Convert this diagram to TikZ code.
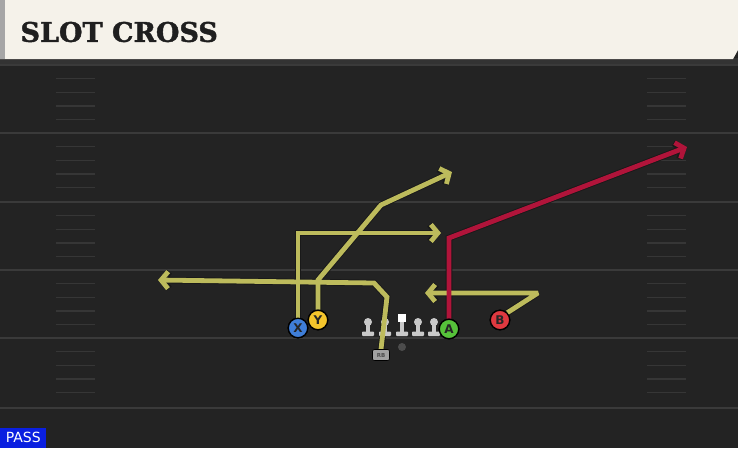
\documentclass[tikz,border=0pt]{standalone}
\usepackage{fontspec}
\setmainfont{DejaVu Sans}
\newfontfamily\titlefont[FakeBold=1.5]{DejaVu Serif Bold}
\usetikzlibrary{arrows.meta}
\definecolor{bg}{HTML}{232323}
\definecolor{yardc}{HTML}{3A3A3A}
\definecolor{hashc}{HTML}{363636}
\definecolor{banner}{HTML}{F5F2EA}
\definecolor{routey}{HTML}{BDBB5C}
\definecolor{router}{HTML}{B0143A}
\definecolor{pblue}{HTML}{3F7ED8}
\definecolor{pyellow}{HTML}{F4C52C}
\definecolor{pgreen}{HTML}{56C23A}
\definecolor{pred}{HTML}{DF3940}
\definecolor{olc}{HTML}{C9C9C9}
\definecolor{passblue}{HTML}{0A1FE0}
\tikzset{
  yard/.style={draw=yardc, line width=2pt},
  hashm/.style={draw=hashc, line width=1.4pt},
  routeout/.style={draw=black!90, line width=6.6pt, line join=miter, miter limit=2, -{Straight Barb[length=7pt,width=17pt,line width=6.6pt]}},
  routein/.style={line width=4.8pt, line join=miter, miter limit=2, -{Straight Barb[length=7pt,width=17pt,line width=4.8pt]}},
  player/.style={circle, draw=black, line width=1.3pt, minimum size=19.5pt, inner sep=0pt, font=\bfseries\fontsize{12}{12}\selectfont, text=black!85},
  olhead/.style={circle, fill=olc, minimum size=8pt, inner sep=0pt},
  rbbox/.style={fill=olc!80!black, rounded corners=2pt, minimum width=17pt, minimum height=11pt, inner sep=0pt, font=\bfseries\fontsize{5.5}{5.5}\selectfont, text=black!70, draw=black, line width=0.6pt},
}
\begin{document}
\begin{tikzpicture}[x=1pt,y=-1pt]
\useasboundingbox (0,0) rectangle (738,448);
\fill[bg] (0,0) rectangle (738,448);
% yard lines
\foreach \yy in {65,133,202,270,338,408} {\draw[yard] (0,\yy) -- (738,\yy);}
% hash marks
\foreach \yy in {65,133,202,270,338} {
  \foreach \k in {1,2,3,4} {
    \draw[hashm] (56,{\yy+13.6*\k}) -- (95,{\yy+13.6*\k});
    \draw[hashm] (647,{\yy+13.6*\k}) -- (686,{\yy+13.6*\k});
  }
}
% banner
\fill[black!80] (0,58) rectangle (738,64);
\fill[banner] (0,0) -- (738,0) -- (738,50) -- (733,59) -- (0,59) -- cycle;
\fill[gray!70] (0,0) rectangle (5,59);
\node[anchor=west, font=\titlefont\fontsize{27}{27}\selectfont, text=black!88] (title) at (17,32) {SLOT CROSS};
% PASS label
\node[anchor=south west, fill=passblue, text=white, inner sep=0pt, minimum width=46pt, minimum height=20pt, font=\fontsize{14}{14}\selectfont] (pass) at (0,448) {PASS};
% players
\node[player, fill=pblue] (X) at (298,328) {X};
\node[player, fill=pyellow] (Y) at (318,320) {Y};
\node[player, fill=pgreen] (A) at (449,329) {A};
\node[player, fill=pred] (B) at (500,320) {B};
\node[rbbox] (RB) at (381,355) {RB};
\node[circle, fill=gray!60!black, minimum size=8pt, inner sep=0pt] (QB) at (402,347) {};
% routes coordinates
\coordinate (x1) at (298,233); \coordinate (x2) at (441,233);
\coordinate (y1) at (318,280); \coordinate (y2) at (381,205); \coordinate (y3) at (452,172);
\coordinate (r1) at (387,297); \coordinate (r2) at (374,283); \coordinate (r3) at (158,280);
\coordinate (b1) at (538,293); \coordinate (b2) at (425,293);
\coordinate (a1) at (449,238); \coordinate (a2) at (687,147);
% outlines
\draw[routeout] (X.north) -- (x1) -- (x2);
\draw[routeout] (Y.north) -- (y1) -- (y2) -- (y3);
\draw[routeout] (RB.north) -- (r1) -- (r2) -- (r3);
\draw[routeout] (B.north east) -- (b1) -- (b2);
\draw[routeout] (A.north) -- (a1) -- (a2);
% colour
\draw[routein, draw=routey] (X.north) -- (x1) -- (x2);
\draw[routein, draw=routey] (Y.north) -- (y1) -- (y2) -- (y3);
\draw[routein, draw=routey] (B.north east) -- (b1) -- (b2);
\draw[routein, draw=router] (A.north) -- (a1) -- (a2);
% offensive line
\foreach \xx/\nm in {368/o1,385/o2,418/o4,434/o5} {
  \fill[olc] (\xx-1.8,322) rectangle (\xx+1.8,333);
  \fill[olc, rounded corners=0.8pt] (\xx-6,331.5) rectangle (\xx+6,336);
  \node[olhead] (\nm) at (\xx,322) {};
}
\fill[olc] (400.2,320) rectangle (403.8,333);
\fill[olc, rounded corners=0.8pt] (396,331.5) rectangle (408,336);
\node[fill=white, minimum size=8pt, inner sep=0pt] (C) at (402,318) {};
% RB route above the line
\draw[routein, draw=routey] (RB.north) -- (r1) -- (r2) -- (r3);
\node[player, fill=pblue] at (X) {X};
\node[player, fill=pyellow] at (Y) {Y};
\node[player, fill=pgreen] at (A) {A};
\node[player, fill=pred] at (B) {B};
\node[rbbox] at (RB) {RB};
\end{tikzpicture}
\end{document}
